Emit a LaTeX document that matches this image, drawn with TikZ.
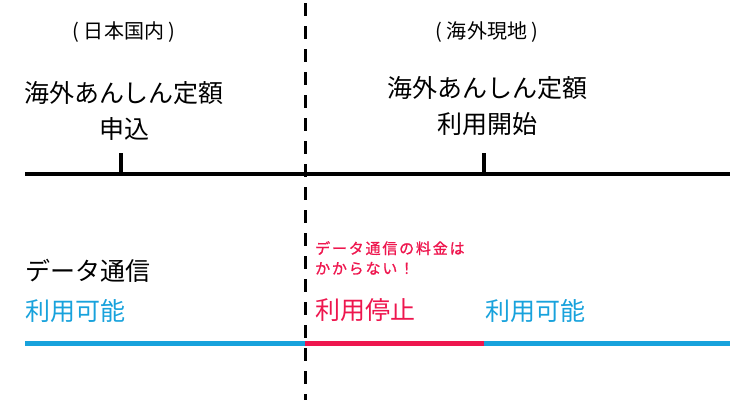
\documentclass[tikz,border=0pt]{standalone}
\usepackage{fontspec}
\setmainfont{Noto Sans CJK JP}
\usetikzlibrary{positioning}
\definecolor{myblue}{RGB}{24,162,220}
\definecolor{myred}{RGB}{238,22,78}

\begin{document}
\begin{tikzpicture}[x=1pt,y=-1pt,
    big/.style={inner sep=0pt,align=center,font=\fontsize{25}{36}\selectfont},
    small/.style={inner sep=0pt,font=\fontsize{20}{24}\selectfont},
    note/.style={inner sep=0pt,align=left,text=myred,font=\fontsize{15}{20}\selectfont\addfontfeature{LetterSpace=12,FakeBold=1}},
    bar/.style={line width=5pt}]
    \useasboundingbox (0,0) rectangle (756,400);

    % headings
    \node[small] (home) at (124,32) {( 日本国内 )};
    \node[small] (abroad) at (487,32) {( 海外現地 )};

    % events
    \node[big] (apply) at (124,111) {海外あんしん定額\\申込};
    \node[big] (start) at (487,106) {海外あんしん定額\\利用開始};

    % timeline
    \coordinate (tl) at (25,174);
    \coordinate (tr) at (730,174);
    \coordinate (t1) at (121,174);
    \coordinate (t1top) at (121,153);
    \coordinate (t2) at (484,174);
    \coordinate (t2top) at (484,153);
    \draw[line width=4pt] (tl) -- (tr);
    \draw[line width=4pt] (t1) -- (t1top);
    \draw[line width=4pt] (t2) -- (t2top);

    % data status
    \node[big,anchor=west] (data) at (25,271) {データ通信};
    \node[big,anchor=west,text=myblue] (ok1) at (25,311) {利用可能};
    \node[big,anchor=west,text=myred] (stop) at (315,310) {利用停止};
    \node[big,anchor=west,text=myblue] (ok2) at (485,311) {利用可能};
    \node[note,anchor=north west] (free) at (315,241) {データ通信の料金は\\かからない！};

    % status bars
    \coordinate (bl) at (25,343);
    \coordinate (bm) at (305,343);
    \coordinate (bn) at (484,343);
    \coordinate (br) at (730,343);
    \draw[bar,myblue] (bl) -- (bm);
    \draw[bar,myred] (bm) -- (bn);
    \draw[bar,myblue] (bn) -- (br);

    % border
    \coordinate (sept) at (305,3);
    \coordinate (sepb) at (305,400);
    \draw[line width=3pt,dash pattern=on 13pt off 10pt] (sept) -- (sepb);
\end{tikzpicture}
\end{document}
